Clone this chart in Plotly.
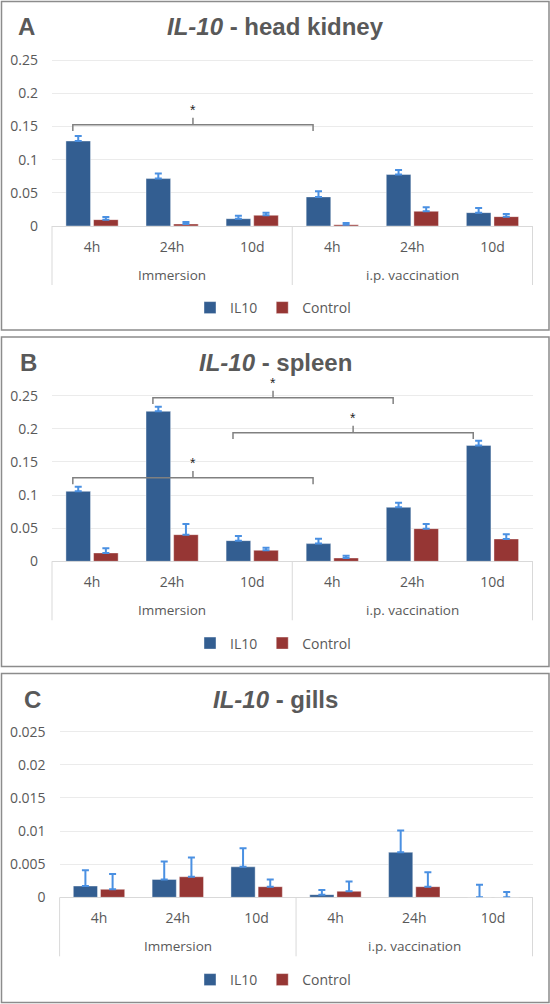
import plotly.graph_objects as go

W, H = 550, 1004

groups = ["Immersion", "i.p. vaccination"]
times = ["4h", "24h", "10d"]

# IL-10 - head kidney
hk_il10 = [0.128, 0.0714, 0.011, 0.0438, 0.0775, 0.0201]
hk_il10_err = [0.0075, 0.0075, 0.0045, 0.0085, 0.007, 0.007]
hk_ctrl = [0.0096, 0.003, 0.0161, 0.002, 0.0221, 0.0141]
hk_ctrl_err = [0.004, 0.003, 0.004, 0.0025, 0.006, 0.004]

# IL-10 - spleen
sp_il10 = [0.1056, 0.2264, 0.0312, 0.0267, 0.0815, 0.175]
sp_il10_err = [0.007, 0.007, 0.007, 0.0075, 0.007, 0.007]
sp_ctrl = [0.0126, 0.0402, 0.0166, 0.005, 0.0493, 0.0337]
sp_ctrl_err = [0.007, 0.016, 0.004, 0.0035, 0.007, 0.007]

# IL-10 - gills
gi_il10 = [0.0017, 0.0027, 0.0046, 0.0004, 0.0068, 0.0]
gi_il10_err = [0.0024, 0.0027, 0.0028, 0.0007, 0.0033, 0.0019]
gi_ctrl = [0.0012, 0.0031, 0.0016, 0.0009, 0.0016, 0.0]
gi_ctrl_err = [0.0023, 0.0029, 0.0011, 0.0015, 0.0022, 0.0008]

hk_ticks = [0, 0.05, 0.1, 0.15, 0.2, 0.25]
sp_ticks = [0, 0.05, 0.1, 0.15, 0.2, 0.25]
gi_ticks = [0, 0.005, 0.01, 0.015, 0.02, 0.025]

# significance brackets: (from bar, to bar, bracket height)
hk_sig = [(0, 3, 0.1524)]
sp_sig = [(1, 4, 0.247), (2, 5, 0.194), (0, 3, 0.126)]
gi_sig = []

BLUE = "#335E91"
RED = "#963634"
ERR = "#4A90E2"
GREY_TXT = "#595959"
GRID = "#EBEBEB"
AXIS = "#D9D9D9"
FONT = "Open Sans"

panels = [
    dict(letter="A", organ="head kidney", il10=hk_il10, il10_err=hk_il10_err,
         ctrl=hk_ctrl, ctrl_err=hk_ctrl_err, ticks=hk_ticks, sig=hk_sig,
         box=(1.5, 330), zero=226, top=60, left=52, letter_x=26),
    dict(letter="B", organ="spleen", il10=sp_il10, il10_err=sp_il10_err,
         ctrl=sp_ctrl, ctrl_err=sp_ctrl_err, ticks=sp_ticks, sig=sp_sig,
         box=(337, 666.5), zero=561.3, top=395.7, left=52, letter_x=28.5),
    dict(letter="C", organ="gills", il10=gi_il10, il10_err=gi_il10_err,
         ctrl=gi_ctrl, ctrl_err=gi_ctrl_err, ticks=gi_ticks, sig=gi_sig,
         box=(673.5, 1002.5), zero=897.3, top=731.7, left=59.6, letter_x=32),
]
RIGHT = 532.5
EXTRA = 1.12  # y range headroom above the top tick


def px(x):
    return x / W


def py(y):
    return 1 - y / H


categories = [t for g in groups for t in times]
positions = list(range(len(categories)))
n = len(categories)

fig = go.Figure()
shapes = []
annotations = []
layout = {}

for i, p in enumerate(panels):
    s = "" if i == 0 else str(i + 1)
    top_val = p["ticks"][-1] * EXTRA
    plot_top_px = p["zero"] - (p["zero"] - p["top"]) * EXTRA
    dom_px = p["zero"] - plot_top_px

    for name, vals, errs, color in [("IL10", p["il10"], p["il10_err"], BLUE),
                                    ("Control", p["ctrl"], p["ctrl_err"], RED)]:
        fig.add_trace(go.Bar(
            x=positions, y=vals, name=name,
            marker=dict(color=color, line=dict(color="rgba(255,255,255,0.5)", width=0.8)),
            error_y=dict(type="data", array=errs, arrayminus=[0] * n, symmetric=False,
                         color=ERR, thickness=2, width=3.5),
            xaxis="x" + s, yaxis="y" + s, legend="legend" + s,
        ))

    layout["xaxis" + s] = dict(
        domain=[px(p["left"]), px(RIGHT)], anchor="y" + s, automargin=False,
        range=[-0.5, n - 0.5], tickvals=positions, ticktext=categories,
        showgrid=False, zeroline=False, showline=False, ticks="",
        ticklabelstandoff=11,
        tickfont=dict(family=FONT, size=14, color=GREY_TXT),
    )
    layout["yaxis" + s] = dict(
        domain=[py(p["zero"]), py(plot_top_px)], anchor="x" + s, automargin=False,
        range=[0, top_val], tickvals=p["ticks"],
        showgrid=True, gridcolor=GRID, gridwidth=1,
        zeroline=True, zerolinecolor=AXIS, zerolinewidth=1,
        showline=False, ticks="", ticklabelstandoff=13,
        tickfont=dict(family=FONT, size=14, color=GREY_TXT),
    )
    layout["legend" + s] = dict(
        orientation="h", x=px(273), xanchor="center",
        xref="container", yref="container",
        y=py(p["box"][0] + 306.5), yanchor="middle",
        font=dict(family=FONT, size=14, color=GREY_TXT),
        bgcolor="rgba(0,0,0,0)", itemwidth=30, tracegroupgap=0,
    )

    # panel frame
    shapes.append(dict(type="rect", xref="paper", yref="paper",
                       x0=px(1.5), x1=px(549), y0=py(p["box"][1]), y1=py(p["box"][0]),
                       line=dict(color="#8C8C8C", width=1.5)))

    # group dividers below the axis
    div_len = 59 / dom_px
    for k in range(len(groups) + 1):
        shapes.append(dict(type="line", xref="x" + s + " domain", yref="y" + s + " domain",
                           x0=k * len(times) / n, x1=k * len(times) / n, y0=0, y1=-div_len,
                           line=dict(color=AXIS, width=1)))

    # group labels
    for g_i, g in enumerate(groups):
        annotations.append(dict(
            text=g, xref="x" + s + " domain", yref="y" + s + " domain",
            x=(g_i + 0.5) * len(times) / n, y=-49 / dom_px,
            showarrow=False, xanchor="center", yanchor="middle",
            font=dict(family=FONT, size=13.5, color=GREY_TXT)))

    # title and letter
    annotations.append(dict(
        text=f"<b><i>IL-10</i> - {p['organ']}</b>", xref="paper", yref="paper",
        x=px(275), y=py(p["box"][0] + 25.5), showarrow=False,
        xanchor="center", yanchor="middle",
        font=dict(family="Liberation Sans", size=24, color=GREY_TXT)))
    annotations.append(dict(
        text=f"<b>{p['letter']}</b>", xref="paper", yref="paper",
        x=px(p["letter_x"]), y=py(p["box"][0] + 25.5), showarrow=False,
        xanchor="center", yanchor="middle",
        font=dict(family="Liberation Sans", size=24, color=GREY_TXT)))

    # significance brackets
    off = -0.24
    drop = 0.0095
    rise = 0.0105
    for a, b, yl in p["sig"]:
        x0, x1 = a + off, b + off
        xm = (x0 + x1) / 2
        path = (f"M{x0},{yl - drop} L{x0},{yl} L{x1},{yl} L{x1},{yl - drop} "
                f"M{xm},{yl} L{xm},{yl + rise}")
        shapes.append(dict(type="path", xref="x" + s, yref="y" + s, path=path,
                           line=dict(color="#808080", width=1.5)))
        annotations.append(dict(
            text="*", xref="x" + s, yref="y" + s, x=xm, y=yl + rise,
            showarrow=False, xanchor="center", yanchor="bottom", yshift=-2,
            font=dict(family="Liberation Sans", size=14, color="#262626")))

fig.update_layout(
    width=W, height=H,
    margin=dict(l=0, r=0, t=0, b=0, autoexpand=False),
    paper_bgcolor="white", plot_bgcolor="white",
    barmode="group", bargap=0.31, bargroupgap=0.11,
    shapes=shapes, annotations=annotations,
    **layout,
)

# no default body margin so the figure sits at the window origin
fig.write_html("out.html", config={"displayModeBar": False},
               post_script="document.body.style.margin='0';")
